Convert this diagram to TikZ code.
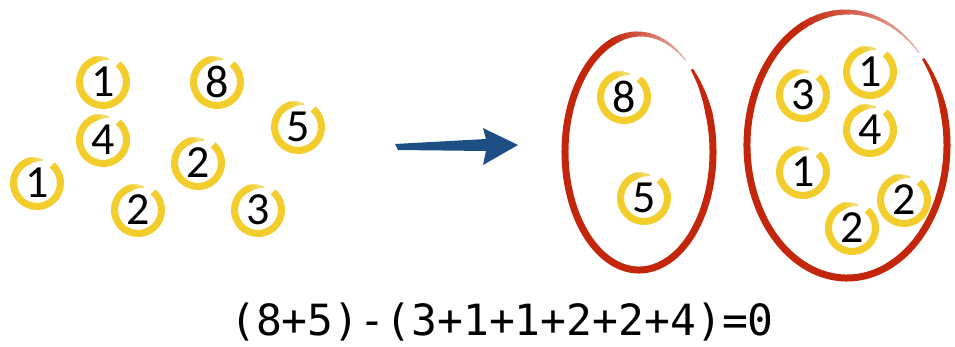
\documentclass[tikz,border=0pt]{standalone}
\usepackage{fontspec}
\newfontfamily\coinfont{Carlito}
\newfontfamily\eqfont{DejaVu Sans Mono}
\definecolor{coinyellow}{HTML}{F2CD2C}
\definecolor{ringred}{HTML}{C4260C}
\definecolor{arrowblue}{HTML}{1D4F84}
\tikzset{
  coin/.style={circle, minimum size=40pt, inner sep=0pt, font=\coinfont\fontsize{46}{46}\selectfont, text=black},
  ringthick/.style={coinyellow, line width=7pt},
  groupthick/.style={ringred, line width=7pt},
}
% tapered arc: #1 centre, #2 x radius, #3 y radius, #4 from angle, #5 to angle (visual),
% #6 width from, #7 width to, #8 colour % from, #9 colour % to, base colour via \tapercol
\newcommand\tapercol{ringred}
\newcommand\taperarc[9]{%
  \foreach \i in {0,...,15}{%
    \pgfmathsetmacro\aa{#4+(#5-#4)*\i/16}%
    \pgfmathsetmacro\ab{#4+(#5-#4)*(\i+1.25)/16}%
    \pgfmathsetmacro\ww{#6+(#7-#6)*(\i+0.5)/16}%
    \pgfmathtruncatemacro\oo{#8+(#9-#8)*(\i+0.5)/16}%
    \draw[draw=\tapercol!\oo!white, line width=\ww pt] (#1) ++(-\aa:#2 and #3) arc[start angle=-\aa, end angle=-\ab, x radius=#2, y radius=#3];
  }}
\newcommand\coinat[3]{%
  \node[coin] (#1) at (#2) {#3};
  \draw[ringthick] (#1.center) ++(-110:23.5) arc[start angle=-110, end angle=-410, radius=23.5];
  \renewcommand\tapercol{coinyellow}%
  \taperarc{#1.center}{23.5}{23.5}{111}{76}{7}{1.5}{100}{70}%
  \renewcommand\tapercol{ringred}%
}
\begin{document}
\begin{tikzpicture}[x=1pt,y=-1pt]
\useasboundingbox (0,0) rectangle (955,347);
\fill[white] (0,0) rectangle (955,347);
% left scattered coins
\coinat{a1}{103,82}{1}
\coinat{a8}{217,82}{8}
\coinat{a4}{103,140}{4}
\coinat{a5}{298,127}{5}
\coinat{a2m}{198,163}{2}
\coinat{a1l}{37,183}{1}
\coinat{a2b}{138,210}{2}
\coinat{a3}{258,210}{3}
% arrow
\coordinate (arrS) at (395,146);
\coordinate (arrE) at (518,145);
\fill[arrowblue] ([shift={(0,-2)}]arrS) -- ([shift={(91,-7)}]arrS) -- ([shift={(88,-18)}]arrS) -- (arrE) -- ([shift={(88,19)}]arrS) -- ([shift={(91,5)}]arrS) -- ([shift={(3,4)}]arrS) -- cycle;
% left group ellipse
\coordinate (g1) at (639,152);
\draw[groupthick] (g1) ++(-110:74 and 118) arc[start angle=-110, end angle=-380, x radius=74, y radius=118];
\taperarc{g1}{74}{118}{111}{52}{7}{1}{100}{35}
\taperarc{g1}{74}{118}{379}{404}{7}{2.5}{100}{100}
\coinat{b8}{624,97}{8}
\coinat{b5}{644,198}{5}
% right group ellipse
\coordinate (g2) at (847,145);
\draw[groupthick] (g2) ++(-115:100 and 133) arc[start angle=-115, end angle=-375, x radius=100, y radius=133];
\taperarc{g2}{100}{133}{116}{45}{7}{1}{100}{35}
\taperarc{g2}{100}{133}{374}{400}{7}{2.5}{100}{100}
\coinat{c3}{803,95}{3}
\coinat{c1t}{870,72}{1}
\coinat{c4}{870,130}{4}
\coinat{c1}{803,172}{1}
\coinat{c2r}{904,200}{2}
\coinat{c2b}{852,228}{2}
% equation
\node[font=\eqfont\fontsize{43}{43}\selectfont, anchor=base, inner sep=0pt] (eq) at (502,335) {(8+5)-(3+1+1+2+2+4)=0};
\end{tikzpicture}
\end{document}
